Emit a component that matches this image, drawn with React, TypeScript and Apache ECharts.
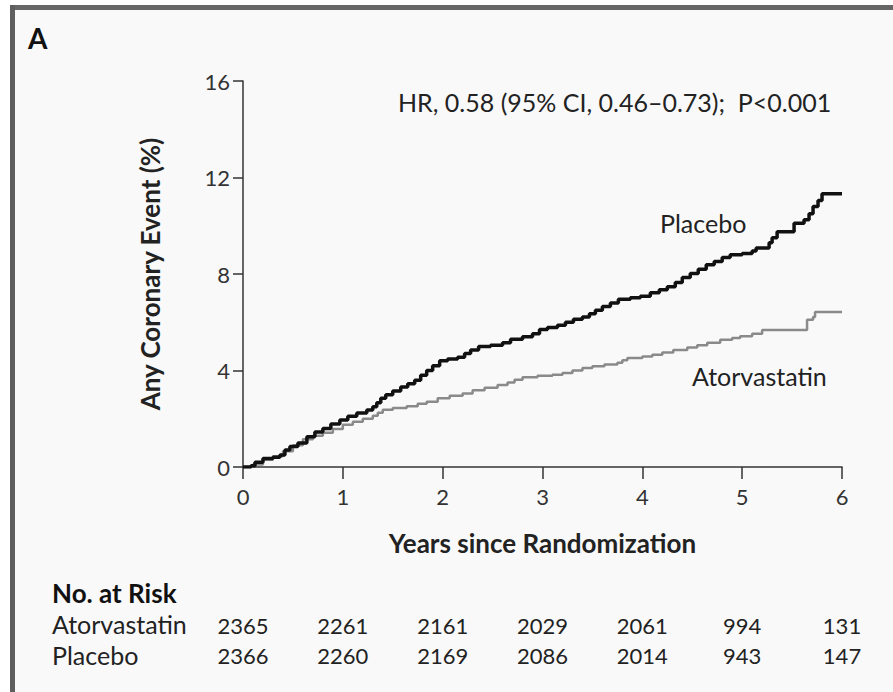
import React, { useEffect, useRef } from "react";
import * as echarts from "echarts";

const xTicks = [0, 1, 2, 3, 4, 5, 6];
const yTicks = [0, 4, 8, 12, 16];

const placeboT = [0, 0.08, 0.12, 0.2, 0.3, 0.37, 0.42, 0.47, 0.55, 0.64, 0.72, 0.8, 0.88, 0.97, 1.05, 1.14, 1.24, 1.3, 1.34, 1.38, 1.43, 1.5, 1.58, 1.65, 1.72, 1.78, 1.84, 1.9, 1.97, 2.05, 2.15, 2.22, 2.28, 2.36, 2.48, 2.6, 2.68, 2.8, 2.9, 2.97, 3.05, 3.15, 3.23, 3.31, 3.4, 3.47, 3.53, 3.6, 3.68, 3.76, 3.88, 3.98, 4.08, 4.17, 4.25, 4.33, 4.4, 4.48, 4.56, 4.64, 4.72, 4.8, 4.88, 5.0, 5.1, 5.14, 5.27, 5.3, 5.35, 5.52, 5.62, 5.67, 5.71, 5.76, 5.8, 6.0];
const placeboV = [0, 0.05, 0.2, 0.35, 0.4, 0.5, 0.7, 0.85, 1.0, 1.25, 1.45, 1.6, 1.78, 1.95, 2.1, 2.24, 2.36, 2.5, 2.66, 2.85, 3.0, 3.15, 3.32, 3.45, 3.6, 3.8, 4.0, 4.2, 4.4, 4.48, 4.55, 4.7, 4.85, 5.0, 5.05, 5.15, 5.3, 5.4, 5.52, 5.7, 5.78, 5.88, 6.0, 6.12, 6.22, 6.35, 6.5, 6.65, 6.8, 6.95, 7.02, 7.08, 7.22, 7.35, 7.47, 7.65, 7.85, 8.02, 8.2, 8.38, 8.52, 8.68, 8.8, 8.85, 8.95, 9.08, 9.3, 9.5, 9.75, 10.1, 10.25, 10.5, 10.8, 11.05, 11.33, 11.33];

const atorvaT = [0, 0.1, 0.2, 0.3, 0.4, 0.5, 0.6, 0.7, 0.8, 0.9, 1.0, 1.1, 1.2, 1.3, 1.35, 1.4, 1.5, 1.64, 1.75, 1.84, 1.95, 2.07, 2.2, 2.3, 2.42, 2.55, 2.65, 2.72, 2.8, 2.95, 3.1, 3.2, 3.3, 3.4, 3.5, 3.62, 3.75, 3.8, 3.85, 4.0, 4.1, 4.2, 4.31, 4.45, 4.55, 4.65, 4.78, 4.9, 4.98, 5.1, 5.2, 5.65, 5.71, 5.73, 6.0];
const atorvaV = [0, 0.1, 0.3, 0.45, 0.65, 0.9, 1.15, 1.3, 1.42, 1.58, 1.75, 1.88, 2.0, 2.12, 2.25, 2.37, 2.45, 2.52, 2.62, 2.7, 2.85, 2.95, 3.05, 3.18, 3.28, 3.4, 3.5, 3.62, 3.72, 3.78, 3.82, 3.9, 4.0, 4.1, 4.18, 4.25, 4.32, 4.42, 4.52, 4.58, 4.65, 4.75, 4.85, 4.95, 5.05, 5.15, 5.27, 5.35, 5.42, 5.52, 5.68, 6.1, 6.22, 6.43, 6.43];

const riskLabels = ["Atorvastatin", "Placebo"];
const riskAtorvastatin = [2365, 2261, 2161, 2029, 2061, 994, 131];
const riskPlacebo = [2366, 2260, 2169, 2086, 2014, 943, 147];

const hrText = "HR, 0.58 (95% CI, 0.46\u20130.73);  P<0.001";

const FONT = "Lato, 'Noto Sans', sans-serif";
const TXT = "#222";

export default function App() {
  const ref = useRef<HTMLDivElement>(null);
  useEffect(() => {
    if (!ref.current) return;
    const chart = echarts.init(ref.current, undefined, { renderer: "svg" });
    const pairs = (t: number[], v: number[]) => t.map((x, i) => [x, v[i]]);
    chart.setOption({
      animation: false,
      backgroundColor: "#ffffff",
      grid: { left: 243, right: 51, top: 81, bottom: 225, containLabel: false },
      xAxis: {
        type: "value",
        min: xTicks[0],
        max: xTicks[xTicks.length - 1],
        interval: 1,
        name: "Years since Randomization",
        nameLocation: "middle",
        nameGap: 63,
        nameTextStyle: { fontFamily: FONT, fontSize: 26, fontWeight: "bold", color: TXT },
        axisLine: { show: true, lineStyle: { color: "#333", width: 1.5 } },
        axisTick: { show: true, length: 12, lineStyle: { color: "#333", width: 1.5 } },
        axisLabel: { fontFamily: FONT, fontSize: 22, color: "#333", margin: 18 },
        splitLine: { show: false },
      },
      yAxis: {
        type: "value",
        min: yTicks[0],
        max: yTicks[yTicks.length - 1],
        interval: 4,
        name: "Any Coronary Event (%)",
        nameLocation: "middle",
        nameGap: 80,
        nameRotate: 90,
        nameTextStyle: { fontFamily: FONT, fontSize: 26, fontWeight: "bold", color: TXT },
        axisLine: { show: true, lineStyle: { color: "#333", width: 1.5 } },
        axisTick: { show: true, length: 10, lineStyle: { color: "#333", width: 1.5 } },
        axisLabel: { fontFamily: FONT, fontSize: 22, color: "#333", margin: 13 },
        splitLine: { show: false },
      },
      series: [
        {
          type: "line",
          name: "Atorvastatin",
          step: "end",
          showSymbol: false,
          data: pairs(atorvaT, atorvaV),
          lineStyle: { color: "#8a8a8a", width: 2.5 },
        },
        {
          type: "line",
          name: "Placebo",
          step: "end",
          showSymbol: false,
          data: pairs(placeboT, placeboV),
          lineStyle: { color: "#111", width: 3.5 },
        },
      ],
    });

    const px = (t: number) => chart.convertToPixel({ xAxisIndex: 0 }, t) as number;
    const tableEls: any[] = [];
    xTicks.forEach((t, i) => {
      tableEls.push({
        type: "text", x: px(t), y: 625,
        style: { text: String(riskAtorvastatin[i]), fontFamily: FONT, fontSize: 22, fill: TXT, align: "center", verticalAlign: "middle" },
      });
      tableEls.push({
        type: "text", x: px(t), y: 655,
        style: { text: String(riskPlacebo[i]), fontFamily: FONT, fontSize: 22, fill: TXT, align: "center", verticalAlign: "middle" },
      });
    });

    chart.setOption({
      graphic: [
        { type: "rect", z: -10, shape: { x: 10, y: 5, width: 883, height: 687 }, style: { fill: "#f9f9f9" } },
        { type: "rect", z: -9, shape: { x: 10, y: 5, width: 883, height: 5 }, style: { fill: "#666" } },
        { type: "rect", z: -9, shape: { x: 10, y: 5, width: 5, height: 687 }, style: { fill: "#5e5e5e" } },
        { type: "text", x: 28, y: 38, style: { text: "A", fontFamily: FONT, fontSize: 28, fontWeight: "bold", fill: "#111", verticalAlign: "middle" } },
        { type: "text", x: 398, y: 102, style: { text: hrText, fontFamily: FONT, fontSize: 25, fill: TXT, verticalAlign: "middle" } },
        { type: "text", x: 660, y: 223, style: { text: "Placebo", fontFamily: FONT, fontSize: 25, fill: TXT, verticalAlign: "middle" } },
        { type: "text", x: 692, y: 376, style: { text: "Atorvastatin", fontFamily: FONT, fontSize: 25, fill: TXT, verticalAlign: "middle" } },
        { type: "text", x: 52, y: 593, style: { text: "No. at Risk", fontFamily: FONT, fontSize: 26, fontWeight: "bold", fill: "#111", verticalAlign: "middle" } },
        { type: "text", x: 52, y: 624, style: { text: riskLabels[0], fontFamily: FONT, fontSize: 25, fill: TXT, verticalAlign: "middle" } },
        { type: "text", x: 52, y: 655, style: { text: riskLabels[1], fontFamily: FONT, fontSize: 25, fill: TXT, verticalAlign: "middle" } },
        ...tableEls,
      ],
    });
    return () => chart.dispose();
  }, []);
  return <div ref={ref} style={{ position: "fixed", left: 0, top: 0, width: 893, height: 692 }} />;
}
